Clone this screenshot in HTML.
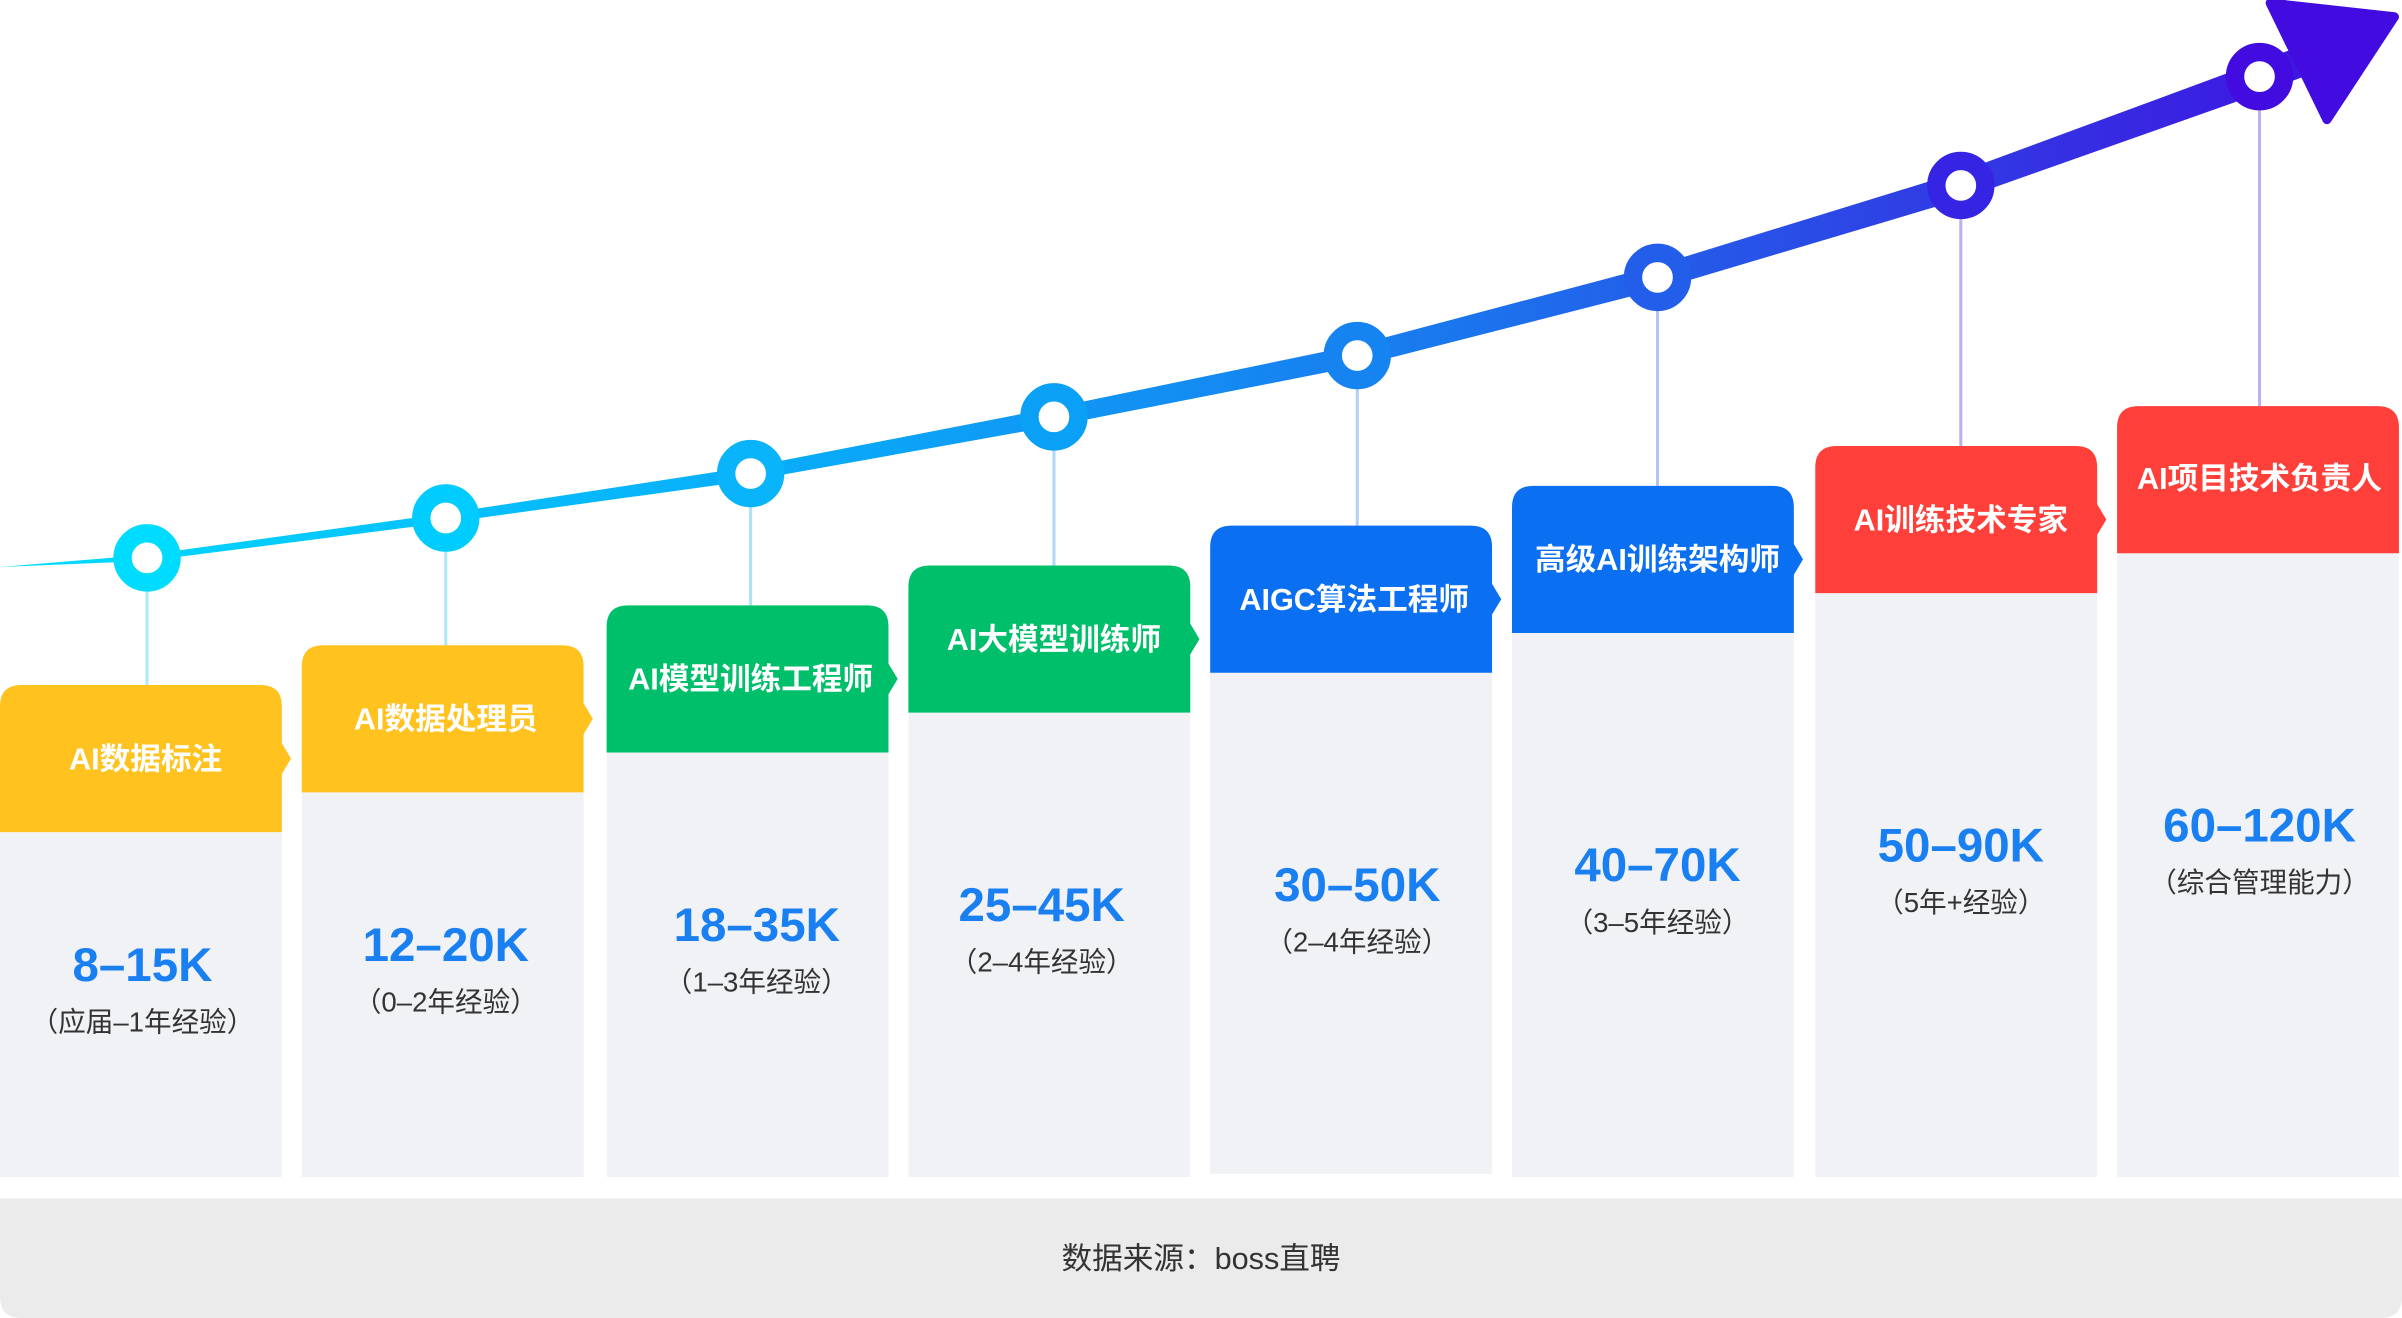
<!DOCTYPE html>
<html><head><meta charset="utf-8"><style>
html,body{margin:0;padding:0;background:#fff;}
svg{display:block;}
text{font-family:"Liberation Sans","Noto Sans CJK SC",sans-serif;}
</style></head><body>
<svg width="2402" height="1318" viewBox="0 0 1568 860" preserveAspectRatio="none" xmlns="http://www.w3.org/2000/svg">
<defs>
<linearGradient id="g" x1="0" y1="0" x2="1568" y2="0" gradientUnits="userSpaceOnUse">
<stop offset="0" stop-color="#00dcff"/>
<stop offset="0.35" stop-color="#0aa8f8"/>
<stop offset="0.6" stop-color="#1a78ee"/>
<stop offset="0.8" stop-color="#2f3ee4"/>
<stop offset="1" stop-color="#420ce0"/>
</linearGradient>
</defs>
<!-- footer -->
<path d="M0 782 H1568 V846 Q1568 860 1554 860 H14 Q0 860 0 846 Z" fill="#ebebeb"/>
<text x="784" y="828" font-size="20" fill="#333" text-anchor="middle">数据来源：boss直聘</text>

<!-- connectors -->
<g stroke-width="2">
<line x1="96" y1="364" x2="96" y2="447" stroke="#b0e8f8"/>
<line x1="291" y1="338" x2="291" y2="421" stroke="#b0e6f8"/>
<line x1="490" y1="309" x2="490" y2="395" stroke="#b0e0f8"/>
<line x1="688" y1="272" x2="688" y2="369" stroke="#b0d8f6"/>
<line x1="886" y1="232" x2="886" y2="343" stroke="#b0d0f4"/>
<line x1="1082" y1="181" x2="1082" y2="317" stroke="#b4c4f2"/>
<line x1="1280" y1="121" x2="1280" y2="291" stroke="#bcb0f0"/>
<line x1="1475" y1="50" x2="1475" y2="265" stroke="#c0b0f0"/>
</g>

<!-- curve -->
<path d="M0 370 L96 362 L291 335 L490 304.5 L688 266 L886 225 L1082 173 L1280 112 L1475 40 L1510 27 L1517 45 L1475 61 L1280 130 L1082 189 L886 239 L688 278 L490 313.5 L291 341 L96 366 Z" fill="url(#g)"/>
<polygon points="1482,2 1563,11 1519,78 Z" fill="#420ce0" stroke="#420ce0" stroke-width="6" stroke-linejoin="round"/>

<!-- nodes -->
<g stroke-width="12" fill="#fff">
<circle cx="96" cy="364" r="16" stroke="#00dcff"/>
<circle cx="291" cy="338" r="16" stroke="#00ccff"/>
<circle cx="490" cy="309" r="16" stroke="#0ab4fa"/>
<circle cx="688" cy="272" r="16" stroke="#0aa0f6"/>
<circle cx="886" cy="232" r="16" stroke="#1684f0"/>
<circle cx="1082" cy="181" r="16" stroke="#225eea"/>
<circle cx="1280" cy="121" r="16" stroke="#3624e4"/>
<circle cx="1475" cy="50" r="16" stroke="#420ce0"/>
</g>

<!-- columns -->
<g id="cols">
<!-- col1 -->
<rect x="0" y="543" width="184" height="225" fill="#f1f2f5"/>
<path d="M0 461 Q0 447 14 447 H170 Q184 447 184 461 V485 L190 495 L184 505 V543 H0 Z" fill="#ffc21f"/>
<text x="95" y="502" font-size="20" font-weight="bold" fill="#fff" text-anchor="middle">AI数据标注</text>
<text x="93" y="640" font-size="31" font-weight="bold" fill="#1a80f2" text-anchor="middle">8–15K</text>
<text x="93" y="673" font-size="18" fill="#333" text-anchor="middle">（应届–1年经验）</text>
<!-- col2 -->
<rect x="197" y="517" width="184" height="251" fill="#f1f2f5"/>
<path d="M197 435 Q197 421 211 421 H367 Q381 421 381 435 V459 L387 469 L381 479 V517 H197 Z" fill="#ffc21f"/>
<text x="291" y="476" font-size="20" font-weight="bold" fill="#fff" text-anchor="middle">AI数据处理员</text>
<text x="291" y="627" font-size="31" font-weight="bold" fill="#1a80f2" text-anchor="middle">12–20K</text>
<text x="291" y="660" font-size="18" fill="#333" text-anchor="middle">（0–2年经验）</text>
<!-- col3 -->
<rect x="396" y="491" width="184" height="277" fill="#f1f2f5"/>
<path d="M396 409 Q396 395 410 395 H566 Q580 395 580 409 V433 L586 443 L580 453 V491 H396 Z" fill="#00bf6a"/>
<text x="490" y="450" font-size="20" font-weight="bold" fill="#fff" text-anchor="middle">AI模型训练工程师</text>
<text x="494" y="614" font-size="31" font-weight="bold" fill="#1a80f2" text-anchor="middle">18–35K</text>
<text x="494" y="647" font-size="18" fill="#333" text-anchor="middle">（1–3年经验）</text>
<!-- col4 -->
<rect x="593" y="465" width="184" height="303" fill="#f1f2f5"/>
<path d="M593 383 Q593 369 607 369 H763 Q777 369 777 383 V407 L783 417 L777 427 V465 H593 Z" fill="#00bf6a"/>
<text x="688" y="424" font-size="20" font-weight="bold" fill="#fff" text-anchor="middle">AI大模型训练师</text>
<text x="680" y="601" font-size="31" font-weight="bold" fill="#1a80f2" text-anchor="middle">25–45K</text>
<text x="680" y="634" font-size="18" fill="#333" text-anchor="middle">（2–4年经验）</text>
<!-- col5 -->
<rect x="790" y="439" width="184" height="327" fill="#f1f2f5"/>
<path d="M790 357 Q790 343 804 343 H960 Q974 343 974 357 V381 L980 391 L974 401 V439 H790 Z" fill="#0a6ff0"/>
<text x="884" y="398" font-size="20" font-weight="bold" fill="#fff" text-anchor="middle">AIGC算法工程师</text>
<text x="886" y="588" font-size="31" font-weight="bold" fill="#1a80f2" text-anchor="middle">30–50K</text>
<text x="886" y="621" font-size="18" fill="#333" text-anchor="middle">（2–4年经验）</text>
<!-- col6 -->
<rect x="987" y="413" width="184" height="355" fill="#f1f2f5"/>
<path d="M987 331 Q987 317 1001 317 H1157 Q1171 317 1171 331 V355 L1177 365 L1171 375 V413 H987 Z" fill="#0a6ff0"/>
<text x="1082" y="372" font-size="20" font-weight="bold" fill="#fff" text-anchor="middle">高级AI训练架构师</text>
<text x="1082" y="575" font-size="31" font-weight="bold" fill="#1a80f2" text-anchor="middle">40–70K</text>
<text x="1082" y="608" font-size="18" fill="#333" text-anchor="middle">（3–5年经验）</text>
<!-- col7 -->
<rect x="1185" y="387" width="184" height="381" fill="#f1f2f5"/>
<path d="M1185 305 Q1185 291 1199 291 H1355 Q1369 291 1369 305 V329 L1375 339 L1369 349 V387 H1185 Z" fill="#ff403a"/>
<text x="1280" y="346" font-size="20" font-weight="bold" fill="#fff" text-anchor="middle">AI训练技术专家</text>
<text x="1280" y="562" font-size="31" font-weight="bold" fill="#1a80f2" text-anchor="middle">50–90K</text>
<text x="1280" y="595" font-size="18" fill="#333" text-anchor="middle">（5年+经验）</text>
<!-- col8 -->
<rect x="1382" y="361" width="184" height="407" fill="#f1f2f5"/>
<path d="M1382 279 Q1382 265 1396 265 H1552 Q1566 265 1566 279 V361 H1382 Z" fill="#ff403a"/>
<text x="1475" y="319" font-size="20" font-weight="bold" fill="#fff" text-anchor="middle">AI项目技术负责人</text>
<text x="1475" y="549" font-size="31" font-weight="bold" fill="#1a80f2" text-anchor="middle">60–120K</text>
<text x="1475" y="582" font-size="18" fill="#333" text-anchor="middle">（综合管理能力）</text>
</g>
</svg>
</body></html>
